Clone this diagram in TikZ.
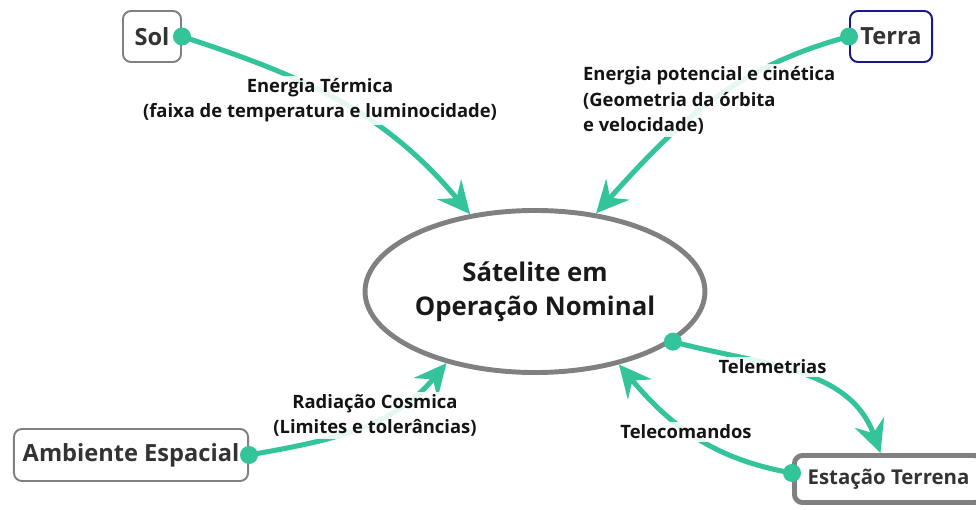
\documentclass[tikz,border=0pt]{standalone}
\usepackage{fontspec}
\setmainfont{Open Sans}
\usetikzlibrary{arrows.meta,shapes.geometric}
\definecolor{linkgreen}{RGB}{52,196,155}
\definecolor{boxgray}{RGB}{128,128,128}
\definecolor{navyline}{RGB}{24,24,140}
\definecolor{txtgray}{RGB}{51,51,51}

\begin{document}
\begin{tikzpicture}[
x=0.025cm, y=0.025cm,
box/.style={draw=boxgray, line width=1.4pt, rounded corners=0.2cm, fill=white, text=txtgray, inner sep=0pt, font=\fontsize{16.8}{20}\selectfont\bfseries},
hub/.style={draw=boxgray, ellipse, line width=3.5pt, inner sep=0pt, minimum width=8.475cm, minimum height=4.05cm, align=center, text=black!90, font=\fontsize{18.3}{24}\selectfont\bfseries},
lbl/.style={fill=white, fill opacity=0.88, text opacity=1, inner sep=2pt, align=center, text=black!92, font=\fontsize{13.1}{18}\selectfont\bfseries},
link/.style={draw=linkgreen, line width=3.6pt, -{Stealth[length=23pt, width=22pt, inset=8pt]}},
dot/.style={fill=linkgreen}
]
\useasboundingbox (0,0) rectangle (976,509);

\node[hub] (sat) at (535,217.5) {Sátelite em\\Operação Nominal};
\node[box, minimum width=1.45cm, minimum height=1.275cm] (sol) at (152,472.5) {Sol};
\node[box, draw=navyline, minimum width=2.05cm, minimum height=1.275cm] (terra) at (891,472.5) {Terra};
\node[box, minimum width=5.85cm, minimum height=1.3cm] (amb) at (131,54) {Ambiente Espacial};
\node[box, line width=3.5pt, minimum width=4.7cm, minimum height=1.175cm, font=\fontsize{14.5}{18}\selectfont\bfseries] (est) at (888.5,30) {Estação Terrena};

\draw[link] (sol.east) to[out=-18,in=130] (sat.130);
\draw[link] (terra.west) to[out=195,in=48] (sat.52);
\draw[link] (amb.east) to[out=10,in=-130] (sat.219);
\draw[link] (sat.-20) to[out=-15,in=110] ([xshift=-0.2cm]est.north);
\draw[link] ([yshift=0.15cm]est.west) to[out=170,in=-50] (sat.-41);

\node[lbl] (lsol) at (320,408.5) {Energia Térmica\\(faixa de temperatura e luminocidade)};
\node[lbl, align=left, anchor=west] (lterra) at (580,408.5) {Energia potencial e cinética\\(Geometria da órbita\\e velocidade)};
\node[lbl] (lamb) at (375,93.5) {Radiação Cosmica\\(Limites e tolerâncias)};
\node[lbl] (ltm) at (772.5,142) {Telemetrias};
\node[lbl] (ltc) at (686,77) {Telecomandos};

\fill[dot] (sol.east) circle (9);
\fill[dot] (terra.west) circle (9);
\fill[dot] (amb.east) circle (9);
\fill[dot] (sat.-20) circle (9);
\fill[dot] ([yshift=0.15cm]est.west) circle (9);
\end{tikzpicture}
\end{document}
